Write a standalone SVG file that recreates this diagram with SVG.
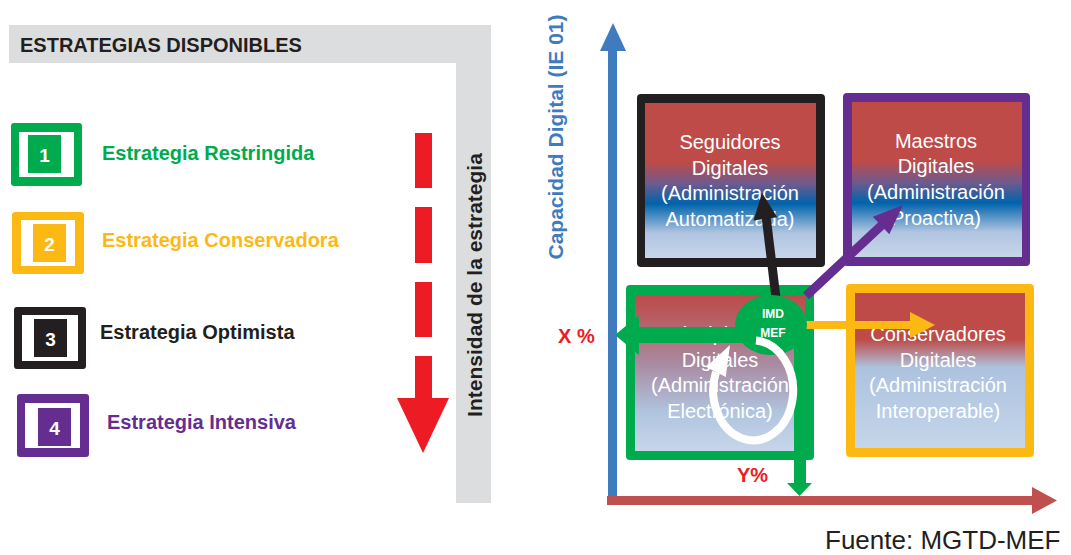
<svg xmlns="http://www.w3.org/2000/svg" width="1071" height="555" viewBox="0 0 1071 555">
<style>
.t{font-family:"Liberation Sans",Arial,sans-serif}
.b{font-weight:bold}
.q{font-family:"Liberation Sans",Arial,sans-serif;font-size:20px;fill:#ffffff;text-anchor:middle}
.num{font-family:"Liberation Sans",Arial,sans-serif;font-weight:bold;font-size:19px;fill:#ffffff;text-anchor:middle}
.leg{font-family:"Liberation Sans",Arial,sans-serif;font-weight:bold;font-size:20px}
</style>
<defs>
<linearGradient id="gTop" x1="0" y1="0" x2="0" y2="1">
<stop offset="0" stop-color="#BE4B48"/>
<stop offset="0.38" stop-color="#BE4B48"/>
<stop offset="0.52" stop-color="#6E5A8E"/>
<stop offset="0.65" stop-color="#0063AC"/>
<stop offset="0.84" stop-color="#B1C5E1"/>
<stop offset="1" stop-color="#C6D6EA"/>
</linearGradient>
<linearGradient id="gOr" x1="0" y1="0" x2="0" y2="1">
<stop offset="0" stop-color="#BE4B48"/>
<stop offset="0.3" stop-color="#BE4B48"/>
<stop offset="0.48" stop-color="#ADC2DF"/>
<stop offset="1" stop-color="#C5D6EA"/>
</linearGradient>
<linearGradient id="gGr" x1="0" y1="0" x2="0" y2="1">
<stop offset="0" stop-color="#BE4B48"/>
<stop offset="0.12" stop-color="#B8595D"/>
<stop offset="0.45" stop-color="#A98CA3"/>
<stop offset="0.75" stop-color="#B1C4DF"/>
<stop offset="1" stop-color="#C6D6EA"/>
</linearGradient>
</defs>

<!-- left panel -->
<g id="panel">
<path d="M9,25 H491 V503 H456 V63 H9 Z" fill="#DCDDDE"/>
<text class="t b" x="20" y="52" font-size="20" fill="#231F20">ESTRATEGIAS DISPONIBLES</text>
<text class="t b" transform="translate(482,285) rotate(-90)" font-size="21" fill="#231F20" text-anchor="middle">Intensidad de la estrategia</text>
</g>

<g id="intensity-arrow" fill="#ED1C24">
<rect x="415" y="133" width="17" height="55"/>
<rect x="415" y="207" width="17" height="56"/>
<rect x="415" y="282" width="17" height="55"/>
<rect x="415" y="356" width="17" height="43"/>
<polygon points="397,398 449,398 423,453"/>
</g>

<g id="legend1">
<rect x="11" y="123" width="71" height="63" rx="3" fill="#00AB4E"/>
<rect x="19" y="132" width="55" height="45" fill="#ffffff"/>
<rect x="28" y="135" width="33" height="38" fill="#00AB4E"/>
<text class="num" x="44.5" y="162">1</text>
<text class="leg" x="102" y="160" fill="#00AB4E">Estrategia Restringida</text>
</g>
<g id="legend2">
<rect x="12" y="212" width="72" height="62" rx="3" fill="#FDB913"/>
<rect x="21" y="220" width="54" height="46" fill="#ffffff"/>
<rect x="33" y="224" width="33" height="38" fill="#FDB913"/>
<text class="num" x="49.5" y="251">2</text>
<text class="leg" x="102" y="247" fill="#FDB913">Estrategia Conservadora</text>
</g>
<g id="legend3">
<rect x="14" y="307" width="72" height="62" rx="3" fill="#231F20"/>
<rect x="22" y="315" width="56" height="46" fill="#ffffff"/>
<rect x="34" y="319" width="33" height="38" fill="#231F20"/>
<text class="num" x="50.5" y="346">3</text>
<text class="leg" x="100" y="339" fill="#231F20">Estrategia Optimista</text>
</g>
<g id="legend4">
<rect x="17" y="394" width="72" height="63" rx="3" fill="#662D91"/>
<rect x="25" y="403" width="55" height="45" fill="#ffffff"/>
<rect x="38" y="408" width="33" height="38" fill="#662D91"/>
<text class="num" x="54.5" y="435">4</text>
<text class="leg" x="107" y="429" fill="#662D91">Estrategia Intensiva</text>
</g>

<!-- axes -->
<g id="axis-y">
<rect x="608" y="50" width="9" height="447" fill="#3F7CBF"/>
<polygon points="600,51 626,51 613,23" fill="#3F7CBF"/>
<text class="t b" transform="translate(563,137) rotate(-90)" font-size="21" fill="#3F7CBF" text-anchor="middle">Capacidad Digital (IE 01)</text>
</g>
<g id="axis-x">
<rect x="607" y="496" width="426" height="9" fill="#C0504D"/>
<polygon points="1032,487 1032,514 1057,500.5" fill="#C0504D"/>
</g>

<!-- quadrants -->
<g id="seguidores">
<rect x="637" y="94" width="188" height="173" rx="4" fill="#231F20"/>
<rect x="645" y="103" width="171" height="155" fill="url(#gTop)"/>
<text class="q" x="730" y="149">Seguidores</text>
<text class="q" x="730" y="175">Digitales</text>
<text class="q" x="730" y="200">(Administración</text>
<text class="q" x="730" y="226">Automatizada)</text>
</g>
<g id="maestros">
<rect x="843" y="93" width="187" height="173" rx="4" fill="#662D91"/>
<rect x="852" y="102" width="170" height="155" fill="url(#gTop)"/>
<text class="q" x="936" y="148">Maestros</text>
<text class="q" x="936" y="173">Digitales</text>
<text class="q" x="936" y="199">(Administración</text>
<text class="q" x="936" y="225">Proactiva)</text>
</g>
<g id="principiantes">
<rect x="626" y="285" width="188" height="175" rx="4" fill="#00AB4E"/>
<rect x="635" y="295" width="170" height="156" fill="url(#gGr)"/>
<text class="q" x="720" y="341">Principiantes</text>
<text class="q" x="720" y="367">Digitales</text>
<text class="q" x="720" y="392">(Administración</text>
<text class="q" x="720" y="418">Electrónica)</text>
</g>
<g id="conservadores">
<rect x="846" y="284" width="188" height="173" rx="4" fill="#FDB913"/>
<rect x="855" y="293" width="170" height="155" fill="url(#gOr)"/>
<text class="q" x="938" y="341">Conservadores</text>
<text class="q" x="938" y="367">Digitales</text>
<text class="q" x="938" y="392">(Administración</text>
<text class="q" x="938" y="418">Interoperable)</text>
</g>

<!-- connectors -->
<g id="connectors">
<rect x="635" y="327" width="125" height="16" fill="#00AB4E"/>
<polygon points="639,315 639,355 615,335" fill="#00AB4E"/>
<rect x="794" y="335" width="12" height="149" fill="#00AB4E"/>
<polygon points="787,483 812,483 799.5,496" fill="#00AB4E"/>
<line x1="776" y1="298" x2="766" y2="216" stroke="#231F20" stroke-width="9"/>
<polygon points="762,193 777.3,217.2 753.5,220.4" fill="#231F20"/>
<line x1="806" y1="296" x2="883" y2="224" stroke="#662D91" stroke-width="9"/>
<polygon points="903,205 889.3,234.3 872.8,216.7" fill="#662D91"/>
<rect x="806" y="321" width="106" height="8" fill="#FDB913"/>
<polygon points="910,312 910,338 935,325" fill="#FDB913"/>
</g>

<g id="imd">
<ellipse cx="771" cy="325" rx="36" ry="30" fill="#00AB4E"/>
<text class="t b" x="773" y="318" font-size="12" fill="#ffffff" text-anchor="middle">IMD</text>
<text class="t b" x="773" y="337" font-size="12" fill="#ffffff" text-anchor="middle">MEF</text>
</g>

<g id="cycle">
<path d="M756,340.5 A40,50 0 1 1 716,372" fill="none" stroke="#ffffff" stroke-width="8"/>
<polygon points="730,345 725.8,377 706.2,367" fill="#ffffff"/>
</g>

<g id="labels">
<text class="t b" x="558" y="343" font-size="20" fill="#ED1C24">X %</text>
<text class="t b" x="737" y="482" font-size="20" fill="#ED1C24">Y%</text>
<text class="t" x="825" y="549" font-size="26" fill="#231F20">Fuente: MGTD-MEF</text>
</g>
</svg>
